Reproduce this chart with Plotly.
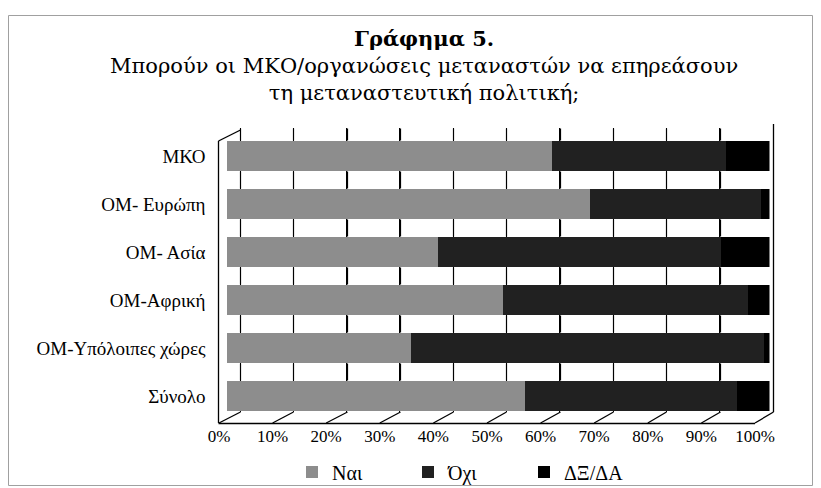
import plotly.graph_objects as go

# ---------------- data ----------------
categories = ["ΜΚΟ", "ΟΜ- Ευρώπη", "ΟΜ- Ασία", "ΟΜ-Αφρική", "ΟΜ-Υπόλοιπες χώρες", "Σύνολο"]
nai = [60, 67, 39, 51, 34, 55]
ochi = [32, 31.5, 52, 45, 65, 39]
dxda = [8, 1.5, 9, 4, 1, 6]
series_names = ["Ναι", "Όχι", "ΔΞ/ΔΑ"]
tick_values = [0, 10, 20, 30, 40, 50, 60, 70, 80, 90, 100]
tick_labels = ["0%", "10%", "20%", "30%", "40%", "50%", "60%", "70%", "80%", "90%", "100%"]

title_main = "Γράφημα 5."
title_sub = "Μπορούν οι ΜΚΟ/οργανώσεις μεταναστών να επηρεάσουν<br>τη μεταναστευτική πολιτική;"

# ---------------- geometry (page pixels; the page body has an 8px margin) ----------------
OFF = 8
FW, FH = 821 - OFF, 488 - OFF
def fx(x):
    return (x - OFF) / FW
def fy(y):
    return 1 - (y - OFF) / FH
def crisp(v):
    return round(v) + 0.5

BACK_L, BACK_R = 240, 773      # back wall 0% / 100%
FRONT_L, FRONT_R = 219, 755    # floor front 0% / 100%
BAR_L, BAR_R = 226.5, 769.5    # bar plane 0% / 100%
WALL_TOP, BACK_BOTTOM, FRONT_BOTTOM = 128, 412, 423
FIRST_BAR_C, BAR_STEP, BAR_H = 156, 48, 30

# range of the bar plot's category axis so that the rows sit at the measured places
y_top = -(FIRST_BAR_C - WALL_TOP) / BAR_STEP
y_bot = y_top + (BACK_BOTTOM - WALL_TOP) / BAR_STEP
# back-wall grid axis overlaid on the bar axis (same pixel domain)
bar_w = BAR_R - BAR_L
g_span = 100 * bar_w / (BACK_R - BACK_L)
g0 = -g_span * (BACK_L - BAR_L) / bar_w

colors = ["#8d8d8d", "#212121", "#000000"]
serif = "Liberation Serif"

fig = go.Figure()

for name, vals, col in zip(series_names, [nai, ochi, dxda], colors):
    fig.add_trace(go.Bar(
        y=categories, x=vals, name=name, orientation="h",
        marker=dict(color=col, line=dict(width=0)),
        xaxis="x", yaxis="y",
    ))
# empty helper traces so the helper axes are drawn
fig.add_trace(go.Scatter(x=[], y=[], xaxis="x2", yaxis="y2", showlegend=False, hoverinfo="skip"))
fig.add_trace(go.Scatter(x=[], y=[], xaxis="x3", yaxis="y", showlegend=False, hoverinfo="skip"))

shapes = []
line = dict(color="#000000", width=1.3)

# back-wall grid lines, drawn only where they are not hidden by the bars
gaps = [(WALL_TOP, FIRST_BAR_C - BAR_H / 2)]
for i in range(len(categories) - 1):
    gaps.append((FIRST_BAR_C + i * BAR_STEP + BAR_H / 2, FIRST_BAR_C + (i + 1) * BAR_STEP - BAR_H / 2))
gaps.append((FIRST_BAR_C + (len(categories) - 1) * BAR_STEP + BAR_H / 2, BACK_BOTTOM))
for t in tick_values[:-1]:
    xb = crisp(BACK_L + (BACK_R - BACK_L) * t / 100)
    for ya, yb in gaps:
        if yb - ya < 0.5:
            continue
        shapes.append(dict(type="line", xref="paper", yref="paper", x0=fx(xb), x1=fx(xb),
                           y0=fy(ya + 0.5), y1=fy(yb - 0.5),
                           line=dict(color="#000000", width=1.2), layer="above"))
# right wall edge (100% back line)
xr = crisp(BACK_R)
shapes.append(dict(type="line", xref="paper", yref="paper", x0=fx(xr), x1=fx(xr),
                   y0=fy(BACK_BOTTOM), y1=fy(124), line=line, layer="above"))
# floor slants
for t in tick_values:
    xf = FRONT_L + (FRONT_R - FRONT_L) * t / 100
    xb = crisp(BACK_L + (BACK_R - BACK_L) * t / 100)
    shapes.append(dict(type="line", xref="paper", yref="paper", x0=fx(xf), x1=fx(xb),
                       y0=fy(FRONT_BOTTOM), y1=fy(BACK_BOTTOM), line=line, layer="above"))
# left wall
xl = crisp(FRONT_L - 1)
shapes.append(dict(type="line", xref="paper", yref="paper", x0=fx(xl), x1=fx(xl),
                   y0=fy(141), y1=fy(FRONT_BOTTOM), line=line, layer="above"))
shapes.append(dict(type="line", xref="paper", yref="paper", x0=fx(xl), x1=fx(crisp(BACK_L)),
                   y0=fy(141), y1=fy(130), line=line, layer="above"))
# floor front edge
yf = crisp(FRONT_BOTTOM)
shapes.append(dict(type="line", xref="paper", yref="paper", x0=fx(xl), x1=fx(FRONT_R),
                   y0=fy(yf), y1=fy(yf), line=line, layer="above"))
# outer frame
shapes.append(dict(type="rect", xref="paper", yref="paper",
                   x0=fx(8.5), x1=fx(812.5), y0=fy(485.5), y1=fy(15.5),
                   line=dict(color="#a0a0a0", width=1)))

fig.update_layout(
    width=FW, height=FH,
    margin=dict(l=0, r=0, t=0, b=0, autoexpand=False),
    paper_bgcolor="white",
    plot_bgcolor="rgba(0,0,0,0)",
    barmode="stack",
    bargap=1 - BAR_H / BAR_STEP,
    font=dict(family=serif, size=17, color="black"),
    # bars
    xaxis=dict(domain=[fx(BAR_L), fx(BAR_R)], range=[0, 100], anchor="y",
               showgrid=False, zeroline=False, showline=False, showticklabels=False, ticks="",
               fixedrange=True, automargin=False),
    yaxis=dict(domain=[fy(BACK_BOTTOM), fy(WALL_TOP)], anchor="x", range=[y_bot, y_top],
               showgrid=False, zeroline=False, showline=False, ticks="",
               ticklabelstandoff=20, tickfont=dict(family=serif, size=19),
               fixedrange=True, automargin=False),
    # back wall grid axis
    xaxis3=dict(overlaying="x", anchor="y", range=[g0, g0 + g_span],
                tickvals=tick_values, showgrid=True, gridcolor="#000000", gridwidth=1.2,
                zeroline=False, showline=False, showticklabels=False, ticks="",
                fixedrange=True, automargin=False),
    # front tick labels
    xaxis2=dict(domain=[fx(FRONT_L), fx(FRONT_R)], range=[0, 100], anchor="y2",
                tickvals=tick_values, ticktext=tick_labels, showgrid=False, zeroline=False,
                showline=False, ticks="",
                tickfont=dict(family=serif, size=17), fixedrange=True, automargin=False),
    yaxis2=dict(domain=[fy(FRONT_BOTTOM + 1), fy(FRONT_BOTTOM)], anchor="x2", visible=False,
                fixedrange=True, automargin=False),
    shapes=shapes,
    annotations=[
        dict(text="<b>" + title_main + "</b>", x=fx(424), y=fy(38), xref="paper", yref="paper",
             xanchor="center", yanchor="middle", showarrow=False,
             font=dict(family="DejaVu Serif", size=21, color="black")),
        dict(text=title_sub, x=fx(424), y=fy(79), xref="paper", yref="paper",
             xanchor="center", yanchor="middle", showarrow=False,
             font=dict(family="DejaVu Serif", size=21, color="black")),
    ],
    legend=dict(orientation="h", x=fx(292), y=fy(472), xanchor="left", yanchor="middle",
                bgcolor="rgba(0,0,0,0)", borderwidth=0, traceorder="normal",
                entrywidth=71, entrywidthmode="pixels",
                font=dict(family=serif, size=20, color="black")),
)

fig.write_html("out.html")
